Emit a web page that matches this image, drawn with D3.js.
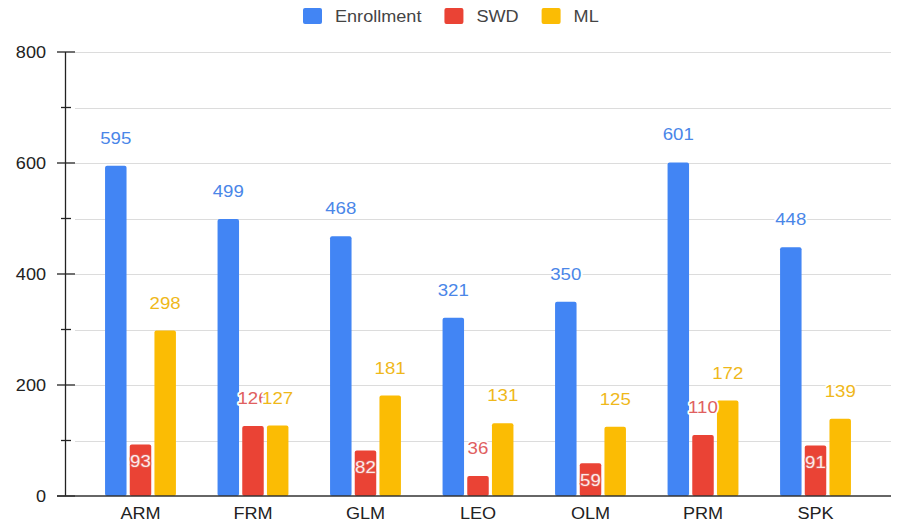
<!DOCTYPE html>
<html>
<head>
<meta charset="utf-8">
<script src="https://cdn.jsdelivr.net/npm/d3@7"></script>
<style>
  html, body { margin: 0; padding: 0; background: #fff; }
  svg { display: block; font-family: Arial, "Liberation Sans", sans-serif; }
</style>
</head>
<body>
<div id="chart"></div>
<script>
const WIDTH = 900;
const HEIGHT = 526;

const schools = ['ARM', 'FRM', 'GLM', 'LEO', 'OLM', 'PRM', 'SPK'];
const seriesNames = ['Enrollment', 'SWD', 'ML'];
const enrollment = [595, 499, 468, 321, 350, 601, 448];
const swd = [93, 126, 82, 36, 59, 110, 91];
const ml = [298, 127, 181, 131, 125, 172, 139];
const yTicks = [0, 200, 400, 600, 800];
const yMinorTicks = [100, 300, 500, 700];
// SWD labels that sit inside their bar in the original
const swdInside = ['ARM', 'GLM', 'OLM', 'SPK'];

const barColors = { Enrollment: '#4285f4', SWD: '#ea4335', ML: '#fbbc04' };
const labelColors = { Enrollment: '#4a86e8', SWD: '#e06060', ML: '#efb81a' };

// the source picture is a bit wider than tall, so text is widened to match
const TEXT_STRETCH = 1.13;

const seriesValues = { Enrollment: enrollment, SWD: swd, ML: ml };
const rows = schools.map((s, i) => ({
  school: s,
  values: seriesNames.map(n => ({ series: n, school: s, value: seriesValues[n][i] })),
}));

const margin = { left: 65, right: 9, top: 52, bottom: 30 };

const x = d3
  .scaleBand()
  .domain(schools)
  .range([margin.left, WIDTH - margin.right])
  .paddingInner(0.37)
  .paddingOuter(0.356);

const xInner = d3
  .scaleBand()
  .domain(seriesNames)
  .range([0, x.bandwidth()])
  .paddingInner(0.13);

const y = d3.scaleLinear().domain([0, 800]).range([HEIGHT - margin.bottom, margin.top]);

const svg = d3
  .select('#chart')
  .append('svg')
  .attr('width', WIDTH)
  .attr('height', HEIGHT);

function stretch(selection) {
  selection.each(function () {
    const w = this.getComputedTextLength();
    d3.select(this)
      .attr('textLength', w * TEXT_STRETCH)
      .attr('lengthAdjust', 'spacingAndGlyphs');
  });
}

// gridlines
svg
  .append('g')
  .selectAll('line')
  .data(d3.range(100, 801, 100))
  .join('line')
  .attr('x1', margin.left + 10)
  .attr('x2', WIDTH - margin.right)
  .attr('y1', d => Math.round(y(d)) + 0.5)
  .attr('y2', d => Math.round(y(d)) + 0.5)
  .attr('stroke', '#dcdcdc')
  .attr('stroke-width', 1);

// y axis
const yAxis = d3
  .axisLeft(y)
  .tickValues(yTicks)
  .tickSize(0)
  .tickPadding(19)
  .tickFormat(d3.format('d'));

const yAxisG = svg
  .append('g')
  .attr('transform', `translate(${margin.left},0)`)
  .call(yAxis);
yAxisG.select('.domain').remove();
yAxisG
  .selectAll('text')
  .attr('font-size', 16)
  .attr('fill', '#222')
  .attr('font-family', 'Arial, "Liberation Sans", sans-serif')
  .call(stretch);

svg
  .append('line')
  .attr('x1', margin.left + 0.5)
  .attr('x2', margin.left + 0.5)
  .attr('y1', y(800))
  .attr('y2', y(0))
  .attr('stroke', '#222')
  .attr('stroke-width', 1.3);

svg
  .append('g')
  .selectAll('line')
  .data(yTicks)
  .join('line')
  .attr('x1', margin.left - 8)
  .attr('x2', margin.left + 10)
  .attr('y1', d => y(d))
  .attr('y2', d => y(d))
  .attr('stroke', '#222')
  .attr('stroke-width', 1.3);

svg
  .append('g')
  .selectAll('line')
  .data(yMinorTicks)
  .join('line')
  .attr('x1', margin.left - 4)
  .attr('x2', margin.left + 6)
  .attr('y1', d => y(d))
  .attr('y2', d => y(d))
  .attr('stroke', '#222')
  .attr('stroke-width', 1.3);

// bars
const groups = svg
  .append('g')
  .selectAll('g')
  .data(rows)
  .join('g')
  .attr('transform', d => `translate(${x(d.school)},0)`);

groups
  .selectAll('rect')
  .data(d => d.values)
  .join('rect')
  .attr('x', d => xInner(d.series))
  .attr('y', d => y(d.value))
  .attr('width', xInner.bandwidth())
  .attr('height', d => y(0) - y(d.value))
  .attr('rx', 2)
  .attr('fill', d => barColors[d.series]);

// baseline
svg
  .append('line')
  .attr('x1', margin.left - 8)
  .attr('x2', WIDTH - margin.right)
  .attr('y1', y(0))
  .attr('y2', y(0))
  .attr('stroke', '#333')
  .attr('stroke-width', 1.5);

// x axis labels
const xAxis = d3.axisBottom(x).tickSize(0).tickPadding(12);
const xAxisG = svg
  .append('g')
  .attr('transform', `translate(0,${y(0)})`)
  .call(xAxis);
xAxisG.select('.domain').remove();
xAxisG
  .selectAll('text')
  .attr('font-size', 16)
  .attr('fill', '#222')
  .attr('font-family', 'Arial, "Liberation Sans", sans-serif')
  .call(stretch);

// value labels
const labels = svg.append('g');
rows.forEach(row => {
  row.values.forEach(d => {
    const inside = d.series === 'SWD' && swdInside.includes(d.school);
    const cx = x(d.school) + xInner(d.series) + xInner.bandwidth() / 2;
    labels
      .append('text')
      .attr('x', cx)
      .attr('y', inside ? y(d.value) + 23 : y(d.value) - 22)
      .attr('text-anchor', 'middle')
      .attr('font-size', 16.5)
      .attr('fill', inside ? '#fdeaea' : labelColors[d.series])
      .attr('stroke', inside ? '#e25a4e' : '#fff')
      .attr('stroke-width', inside ? 2 : 3.5)
      .attr('stroke-linejoin', 'round')
      .attr('paint-order', 'stroke')
      .text(d.value)
      .call(stretch);
  });
});

// legend
const legend = svg.append('g').attr('transform', 'translate(303,8)');
let lx = 0;
seriesNames.forEach(name => {
  const item = legend.append('g').attr('transform', `translate(${lx},0)`);
  item
    .append('rect')
    .attr('width', 19)
    .attr('height', 16)
    .attr('rx', 2)
    .attr('fill', barColors[name]);
  const t = item
    .append('text')
    .attr('x', 32)
    .attr('y', 14)
    .attr('font-size', 16)
    .attr('fill', '#444')
    .text(name)
    .call(stretch);
  lx += 32 + +t.attr('textLength') + 23;
});
</script>
</body>
</html>
